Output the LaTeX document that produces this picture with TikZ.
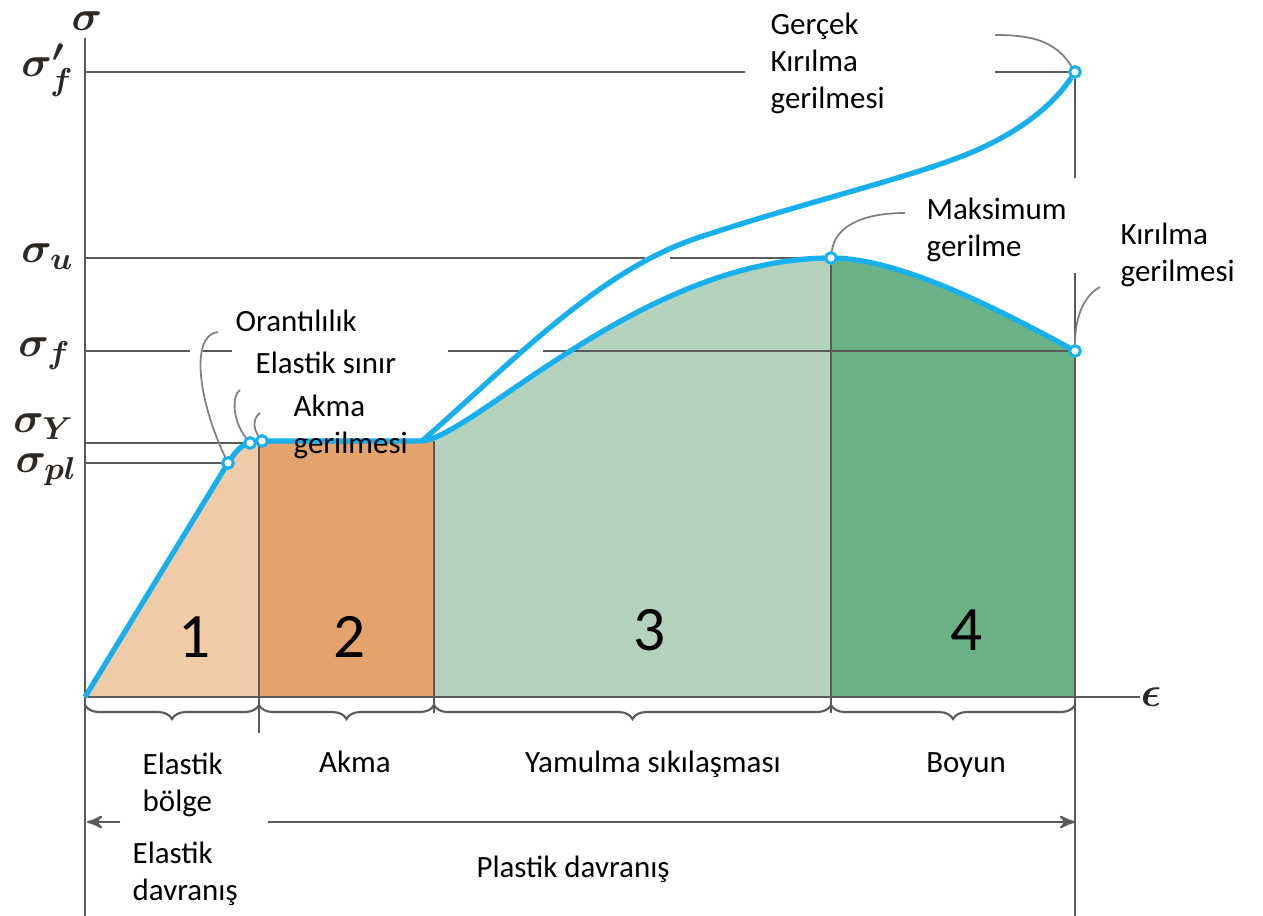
\documentclass[tikz,border=0pt]{standalone}
\usepackage{fontspec}
\setmainfont{Carlito}
\usetikzlibrary{arrows,decorations.pathreplacing}
\definecolor{curveblue}{RGB}{24,176,236}
\definecolor{peach}{RGB}{240,203,168}
\definecolor{tan}{RGB}{226,163,108}
\definecolor{palegreen}{RGB}{181,211,188}
\definecolor{deepgreen}{RGB}{107,178,135}
\definecolor{linegray}{RGB}{90,90,90}
\definecolor{siggray}{RGB}{45,40,35}
\tikzset{>=stealth',
        dot/.style={draw=curveblue,fill=white,circle,line width=0.8pt,inner sep=0pt,minimum size=3pt},
        guide/.style={draw=linegray,line width=0.6pt},
        leader/.style={draw=gray,line width=0.5pt},
        curve/.style={draw=curveblue,line width=1.5pt},
        brc/.style={draw=linegray,line width=0.6pt,decorate,decoration={brace,mirror,amplitude=4pt}},
        lbl/.style={font=\fontsize{8.8}{10.6}\selectfont,inner sep=0pt,align=left},
        sig/.style={font=\fontsize{13}{15}\selectfont\boldmath,text=siggray,inner sep=0pt},
        zone/.style={font=\fontsize{18}{20}\selectfont,inner sep=0pt},
        engpath/.style={insert path={(85,697) -- (228,463) .. controls (238,448) and (244,441) .. (262,441) -- (420,441) .. controls (470,441) and (640,258) .. (831,258) .. controls (900,258) and (1000,310) .. (1075,351)}}
        }

\begin{document}
\begin{tikzpicture}[x=0.01cm,y=-0.01cm]
    \useasboundingbox (0,0) rectangle (1263,916);
    % 原点
    \coordinate (O) at (85,697);
    % 曲线下方四个区域的填色
    \begin{scope}
        \clip[engpath] -- (1075,697) -- cycle;
        \fill[peach] (85,400) rectangle (259,697);
        \fill[tan] (259,400) rectangle (434,697);
        \fill[palegreen] (434,200) rectangle (831,697);
        \fill[deepgreen] (831,200) rectangle (1075,697);
    \end{scope}
    % 坐标轴
    \draw[guide] (85,38) -- (85,916);
    \draw[guide] (O) -- (1140,697) coordinate (xmax);
    \node[sig] (sig) at (87,21) {$\sigma$};
    \node[sig] (eps) at (1151,697) {$\epsilon$};
    % 特征点
    \node[dot] (pl) at (228,463) {};
    \node[dot] (el) at (250,443) {};
    \node[dot] (Y) at (262,441) {};
    \node[dot] (U) at (831,258) {};
    \node[dot] (F) at (1075,351) {};
    \node[dot] (Ft) at (1075,72) {};
    % 水平参考线
    \draw[guide] (O |- pl) -- (pl);
    \draw[guide] (O |- el) -- (el);
    \draw[guide] (O |- U) -- (645,258) (670,258) -- (U);
    \draw[guide] (O |- F) -- (190,351) (203,351) -- (232,351) (448,351) -- (523,351) (543,351) -- (F);
    \draw[guide] (O |- Ft) -- (745,72) (995,72) -- (Ft);
    % 竖直分区线
    \draw[guide] (259,441) -- (259,733);
    \draw[guide] (434,441) -- (434,713);
    \draw[guide] (U) -- (831,713);
    \draw[guide] (Ft) -- (1075,178) (1075,273) -- (F);
    \draw[guide] (F) -- (1075,916);
    % 工程曲线和真实曲线
    \draw[curve, engpath];
    \draw[curve] (422,441) .. controls (520,355) and (600,270) .. (700,237)
        .. controls (800,204) and (900,180) .. (960,157)
        .. controls (1010,138) and (1050,110) .. (Ft);
    % 点放在曲线上面
    \foreach \p in {pl,el,Y,U,F,Ft} \node[dot] at (\p) {};
    % 引线
    \draw[leader] (pl) .. controls (198,400) and (190,335) .. (218,332);
    \draw[leader] (el) .. controls (232,420) and (232,395) .. (240,390);
    \draw[leader] (Y) .. controls (253,428) and (253,418) .. (260,413);
    \draw[leader] (U) .. controls (835,225) and (865,213) .. (905,213);
    \draw[leader] (Ft) .. controls (1055,40) and (1030,35) .. (995,35);
    \draw[leader] (F) .. controls (1075,315) and (1085,295) .. (1100,287);
    % 纵轴刻度
    \node[sig,anchor=base east] (sfp) at (75,77) {$\sigma'_f$};
    \node[sig,anchor=base east] (su) at (75,263) {$\sigma_u$};
    \node[sig,anchor=base east] (sf) at (72,357) {$\sigma_f$};
    \node[sig,anchor=base east] (sy) at (75,433) {$\sigma_Y$};
    \node[sig,anchor=base east] (spl) at (78,473) {$\sigma_{pl}$};
    % 点的说明
    \node[lbl,anchor=base west] (orant) at (235,332) {Orantılılık};
    \node[lbl,anchor=base west] (elsin) at (255,374) {Elastik sınır};
    \node[lbl,anchor=north west] (akmag) at (293,394) {Akma\\gerilmesi};
    \node[lbl,anchor=north west] (gercek) at (770,12) {Gerçek\\Kırılma\\gerilmesi};
    \node[lbl,anchor=north west] (maks) at (926,197) {Maksimum\\gerilme};
    \node[lbl,anchor=north west] (kir) at (1120,222) {Kırılma\\gerilmesi};
    % 区域编号
    \node[zone] (z1) at (195,637) {1};
    \node[zone] (z2) at (350,637) {2};
    \node[zone] (z3) at (650,630) {3};
    \node[zone] (z4) at (967,630) {4};
    % 横轴下面的括号
    \draw[brc] (85,705) -- (259,705);
    \draw[brc] (259,705) -- (434,705);
    \draw[brc] (434,705) -- (831,705);
    \draw[brc] (831,705) -- (1075,705);
    \node[lbl,anchor=north west] (elb) at (142,752) {Elastik\\bölge};
    \node[lbl,anchor=base] (akma) at (355,773) {Akma};
    \node[lbl,anchor=base] (yam) at (653,773) {Yamulma sıkılaşması};
    \node[lbl,anchor=base] (boy) at (966,773) {Boyun};
    % 弹性和塑性行为的箭头
    \draw[guide,->] (120,822) -- (87,822);
    \draw[guide,->] (268,822) -- (1075,822);
    \node[lbl,anchor=north west] (eld) at (132,841) {Elastik\\davranış};
    \node[lbl,anchor=base] (pld) at (573,878) {Plastik davranış};
\end{tikzpicture}
\end{document}
